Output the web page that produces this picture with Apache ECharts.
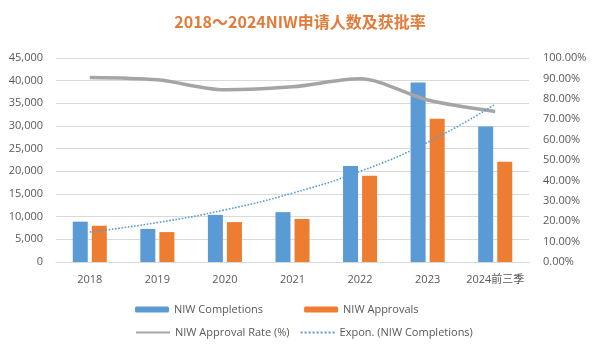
<!DOCTYPE html>
<html><head><meta charset="utf-8">
<script src="https://cdn.jsdelivr.net/npm/echarts@6/dist/echarts.min.js"></script>
<style>html,body{margin:0;padding:0;background:#fff}#c{width:600px;height:348px}</style>
</head><body><div id="c"></div>
<script>
const categories = ['2018','2019','2020','2021','2022','2023','2024前三季'];
const completions = [8900, 7300, 10400, 11000, 21200, 39600, 29900];
const approvals = [8000, 6600, 8800, 9500, 19000, 31600, 22100];
const approvalRate = [90.5, 89.3, 84.4, 85.9, 89.8, 79.4, 73.8];
const exponTrend = [6600, 8700, 11500, 15200, 20000, 26400, 34800];
const leftTicks = {min: 0, max: 45000, interval: 5000};
const rightTicks = {min: 0, max: 100, interval: 10};

const font = '"Open Sans", "Noto Sans CJK SC", sans-serif';
const chart = echarts.init(document.getElementById('c'), null, {renderer: 'canvas'});
chart.setOption({
  animation: false,
  textStyle: {fontFamily: font},
  title: {
    text: '2018～2024NIW申请人数及获批率',
    left: 'center', top: 9,
    textStyle: {color: '#e07b39', fontSize: 16, fontWeight: 'bold', fontFamily: '"Noto Sans CJK SC", sans-serif'}
  },
  legend: [
    {
      data: ['NIW Completions', 'NIW Approvals'],
      left: 130, top: 299, itemWidth: 34, itemHeight: 6, itemGap: 41,
      textStyle: {color: '#595959', fontSize: 11, fontFamily: font}
    },
    {
      data: ['NIW Approval Rate (%)', 'Expon. (NIW Completions)'],
      itemStyle: {opacity: 0},
      left: 130, top: 322, itemWidth: 34, itemHeight: 6, itemGap: 10,
      textStyle: {color: '#595959', fontSize: 11, fontFamily: font}
    }
  ],
  grid: {left: 56, right: 71, top: 58, bottom: 86},
  xAxis: {
    type: 'category', data: categories,
    axisLine: {lineStyle: {color: '#d9d9d9'}},
    axisTick: {show: false},
    axisLabel: {color: '#595959', fontSize: 11, margin: 12, interval: 0}
  },
  yAxis: [
    {
      type: 'value', min: leftTicks.min, max: leftTicks.max, interval: leftTicks.interval,
      axisLine: {show: false}, axisTick: {show: false},
      splitLine: {lineStyle: {color: '#d9d9d9'}},
      axisLabel: {color: '#595959', fontSize: 11, margin: 13,
        formatter: v => v.toLocaleString('en-US')}
    },
    {
      type: 'value', min: rightTicks.min, max: rightTicks.max, interval: rightTicks.interval,
      axisLine: {show: false}, axisTick: {show: false},
      splitLine: {show: false},
      axisLabel: {color: '#595959', fontSize: 11, margin: 14,
        formatter: v => v.toFixed(2) + '%'}
    }
  ],
  series: [
    {name: 'NIW Completions', type: 'bar', data: completions, barWidth: 15, barGap: '27%',
      itemStyle: {color: '#5b9bd5'}},
    {name: 'NIW Approvals', type: 'bar', data: approvals, barWidth: 15,
      itemStyle: {color: '#ed7d31'}},
    {name: 'NIW Approval Rate (%)', type: 'line', yAxisIndex: 1, data: approvalRate,
      smooth: 0.3, symbol: 'none', lineStyle: {color: '#a5a5a5', width: 3.5}, itemStyle: {color: '#a5a5a5'}},
    {name: 'Expon. (NIW Completions)', type: 'line', data: exponTrend,
      smooth: true, symbol: 'none', z: 5,
      lineStyle: {color: '#5b9bd5', width: 1.6, type: 'dotted'}, itemStyle: {color: '#5b9bd5'}}
  ]
});
</script></body></html>
